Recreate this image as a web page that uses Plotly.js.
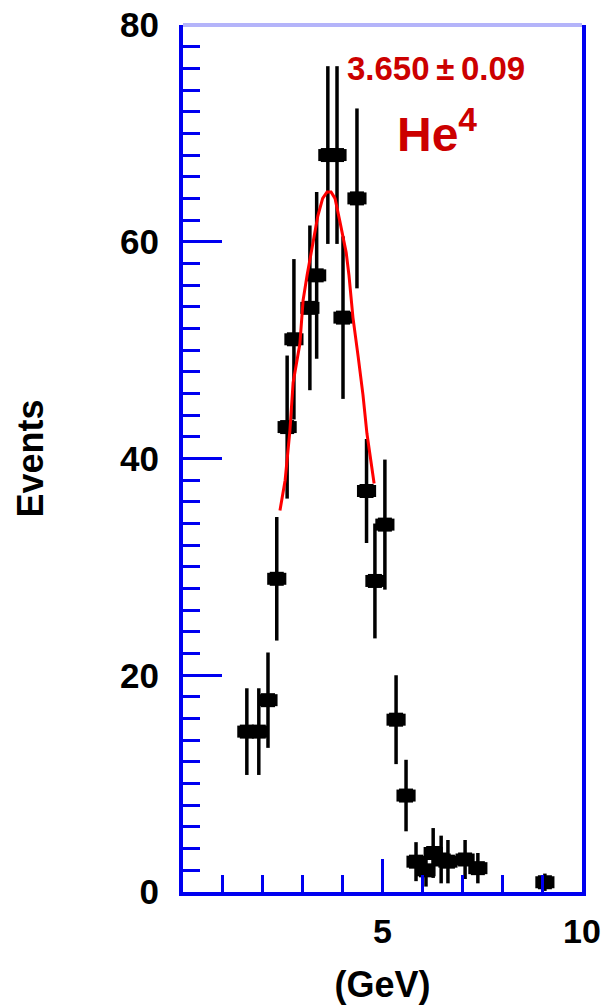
<!DOCTYPE html>
<html><head><meta charset="utf-8">
<script src="https://cdn.plot.ly/plotly-3.0.1.min.js"></script>
<style>html,body{margin:0;padding:0;background:#fff;}</style>
</head><body><div id="chart" style="width:612px;height:1008px;"></div>
<script>
// measured data points (GeV, events, error)
const energy   = [1.60, 1.90, 2.13, 2.35, 2.61, 2.78, 3.18, 3.35, 3.63, 3.86, 4.01, 4.36, 4.60, 4.81, 5.06, 5.34, 5.59, 5.84, 6.09, 6.27, 6.47, 6.64, 7.07, 7.39, 9.07];
const events   = [14.8, 14.8, 17.7, 28.9, 42.9, 51.0, 53.9, 56.9, 68.0, 68.0, 53.0, 64.0, 37.0, 28.7, 33.9, 15.9, 8.9, 2.8, 2.0, 3.6, 3.0, 2.8, 3.0, 2.2, 0.9];
const eventErr = [4.0, 4.0, 4.4, 5.7, 6.6, 7.4, 7.6, 7.7, 8.2, 8.2, 7.5, 8.3, 4.8, 5.3, 6.0, 4.1, 3.3, 1.8, 1.5, 2.3, 2.2, 2.0, 1.8, 1.4, 0.8];

// fitted curve
const fitEnergy = [2.43, 2.56, 2.68, 2.76, 2.93, 3.01, 3.11, 3.23, 3.38, 3.50, 3.61, 3.71, 3.81, 3.93, 4.09, 4.16, 4.26, 4.39, 4.51, 4.61, 4.74, 4.79];
const fitEvents = [35.2, 38.0, 42.6, 47.0, 50.6, 54.6, 56.9, 59.4, 62.4, 64.0, 64.6, 64.6, 64.0, 61.9, 59.0, 56.9, 53.0, 49.4, 45.9, 42.3, 38.9, 37.7];

const yTickVals = [0, 20, 40, 60, 80];
const yTickText = ['0', '20', '40', '60', '80'];
const yLongTickVals = [10, 30, 50, 70];
const xTickVals = [5, 10];
const xTickText = ['5', '10'];

const fitLabel = '3.650\u2009\u00b1\u20090.09';
const nucleusLabel = 'He<sup>4</sup>';
const xTitle = '(GeV)';
const yTitle = 'Events';

const FONT = 'Liberation Sans, Arial, Helvetica, sans-serif';
const BLUE = '#0000f0';

const data = [
  {
    type: 'scatter', mode: 'markers',
    x: energy, y: events,
    marker: {symbol: 'square', size: 14, color: '#000'},
    error_y: {type: 'data', array: eventErr, visible: true, color: '#000', thickness: 3.5, width: 0},
    error_x: {type: 'constant', value: 0.24, visible: true, color: '#000', thickness: 12, width: 0},
    hoverinfo: 'x+y'
  },
  {
    type: 'scatter', mode: 'lines',
    x: fitEnergy, y: fitEvents,
    line: {color: '#ff0000', width: 3},
    hoverinfo: 'skip'
  }
];

const layout = {
  width: 612, height: 1008,
  margin: {l: 183, r: 30, t: 25, b: 116},
  paper_bgcolor: '#fff', plot_bgcolor: '#fff',
  showlegend: false,
  font: {family: FONT, color: '#000'},
  xaxis: {
    range: [0, 10], showgrid: false, zeroline: false,
    showline: true, linecolor: BLUE, linewidth: 4, mirror: false,
    ticks: 'inside', tickmode: 'array', tickvals: xTickVals, ticktext: xTickText,
    ticklen: 33, tickwidth: 3, tickcolor: BLUE,
    minor: {tick0: 0, dtick: 1, ticks: 'inside', ticklen: 17, tickwidth: 3, tickcolor: BLUE, showgrid: false},
    tickfont: {family: FONT, size: 34, weight: 'bold', color: '#000'},
    ticklabelstandoff: 6,
    title: {text: xTitle, font: {family: FONT, size: 36, weight: 'bold', color: '#000'}, standoff: 24}
  },
  yaxis: {
    range: [0, 80], showgrid: false, zeroline: false,
    showline: true, linecolor: BLUE, linewidth: 4, mirror: true,
    ticks: 'inside', tickmode: 'array', tickvals: yTickVals, ticktext: yTickText,
    ticklen: 39, tickwidth: 3, tickcolor: BLUE,
    minor: {tick0: 0, dtick: 2, ticks: 'inside', ticklen: 17, tickwidth: 3, tickcolor: BLUE, showgrid: false},
    tickfont: {family: FONT, size: 35, weight: 'bold', color: '#000'},
    ticklabelstandoff: 13,
    title: {text: yTitle, font: {family: FONT, size: 36, weight: 'bold', color: '#000'}, standoff: 66}
  },
  yaxis2: {
    overlaying: 'y', side: 'left', range: [0, 80],
    showgrid: false, zeroline: false, showline: false, showticklabels: false,
    ticks: 'inside', tickmode: 'array', tickvals: yLongTickVals,
    ticklen: 39, tickwidth: 3, tickcolor: BLUE
  },
  shapes: [
    {type: 'line', xref: 'paper', yref: 'paper', x0: 0, x1: 1, y0: 1, y1: 1,
     line: {color: '#b4b4fa', width: 4}}
  ],
  annotations: [
    {xref: 'paper', yref: 'paper', x: 0.634, y: 0.950, xanchor: 'center', yanchor: 'middle',
     text: fitLabel, showarrow: false, font: {family: FONT, size: 33, weight: 'bold', color: '#cc0000'}},
    {xref: 'paper', yref: 'paper', x: 0.637, y: 0.878, xanchor: 'center', yanchor: 'middle',
     text: nucleusLabel, showarrow: false, font: {family: FONT, size: 48, weight: 'bold', color: '#cc0000'}}
  ]
};

Plotly.newPlot('chart', data, layout, {displayModeBar: false, staticPlot: true});
</script>
</body></html>
